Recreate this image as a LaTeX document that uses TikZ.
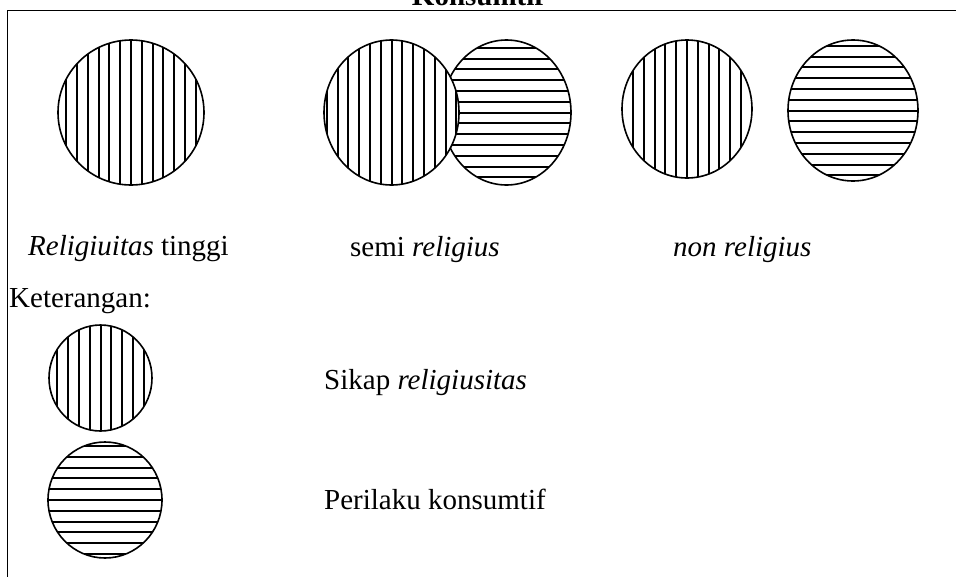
\documentclass[tikz,border=0pt]{standalone}
\usepackage{fontspec}
\setmainfont{Liberation Serif}
\usetikzlibrary{shapes.geometric}
\begin{document}
\begin{tikzpicture}[x=1pt,y=-1pt,
  blob/.style={ellipse, draw, line width=1.6pt, fill=white, inner sep=0pt},
  vhatch/.style={blob, path picture={
    \foreach \i in {-9,...,9}
      \draw[line width=2pt] ([xshift=\i*10.8pt]path picture bounding box.north) -- ([xshift=\i*10.8pt]path picture bounding box.south);}},
  hhatch/.style={blob, path picture={
    \foreach \i in {-9,...,9}
      \draw[line width=2pt] ([yshift=\i*10.8pt]path picture bounding box.west) -- ([yshift=\i*10.8pt]path picture bounding box.east);}},
  lbl/.style={anchor=base west, inner sep=0pt, font=\fontsize{29}{34}\selectfont}
]
\useasboundingbox (0,0) rectangle (956,576);
\clip (0,0) rectangle (956,576);
\fill[white] (0,0) rectangle (956,576);
% frame
\coordinate (fb) at (7.5,600);
\coordinate (ftl) at (7.5,10.5);
\coordinate (ftr) at (980,10.5);
\draw[line width=1.5pt] (fb) -- (ftl) -- (ftr);
% title (cut off at the top, as in the reference)
\node[anchor=base, inner sep=0pt, font=\fontsize{29}{34}\selectfont\bfseries] (title) at (478,5) {Konsumtif};
% circles
\node[vhatch, minimum width=146pt, minimum height=145pt] (a) at (131,112.5) {};
\node[hhatch, minimum width=129pt, minimum height=145pt] (c) at (506.5,112.5) {};
\node[vhatch, minimum width=135pt, minimum height=145pt] (b) at (391.5,112.5) {};
\node[vhatch, minimum width=130pt, minimum height=138pt] (d) at (687,109) {};
\node[hhatch, minimum width=130pt, minimum height=141pt] (e) at (853,110.5) {};
\node[vhatch, minimum width=103pt, minimum height=106pt] (f) at (100.5,378) {};
\node[hhatch, minimum width=114pt, minimum height=116pt] (g) at (105,500) {};
% labels
\node[lbl] (la) at (28,255) {\textit{Religiuitas} tinggi};
\node[lbl] (lb) at (350,256) {semi \textit{religius}};
\node[lbl] (ld) at (673,256) {\textit{non religius}};
\node[lbl] (ket) at (9,307) {Keterangan:};
\node[lbl] (lf) at (324,389) {Sikap \textit{religiusitas}};
\node[lbl] (lg) at (324,509) {Perilaku konsumtif};
\end{tikzpicture}
\end{document}
